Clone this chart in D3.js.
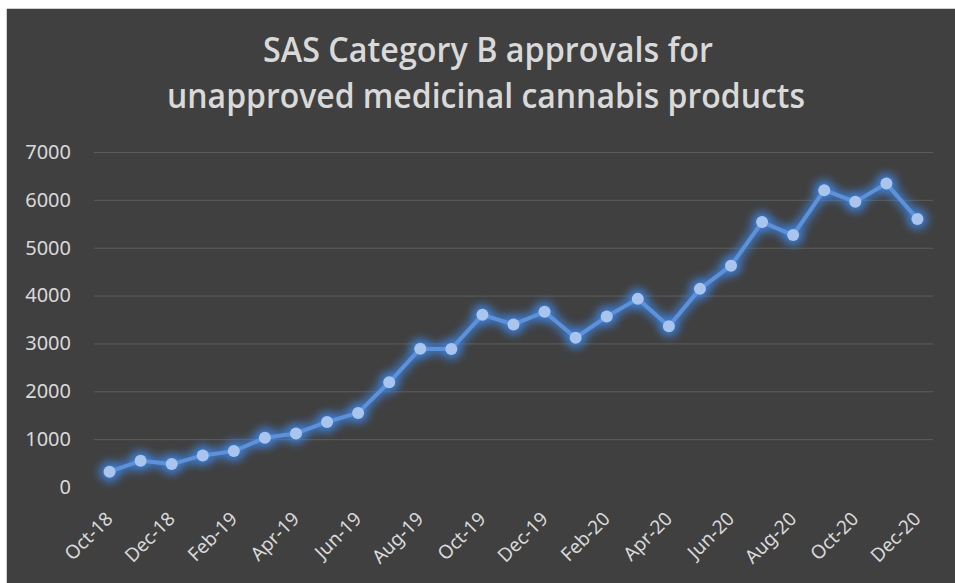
<!DOCTYPE html>
<html>
<head>
<meta charset="utf-8">
<script src="https://cdn.jsdelivr.net/npm/d3@7/dist/d3.min.js"></script>
<style>
  html, body { margin: 0; padding: 0; background: #ffffff; }
  svg { display: block; }
</style>
</head>
<body>
<svg id="chart" width="955" height="583"></svg>
<script>
const months = ["Oct-18","Nov-18","Dec-18","Jan-19","Feb-19","Mar-19","Apr-19","May-19","Jun-19","Jul-19","Aug-19","Sep-19","Oct-19","Nov-19","Dec-19","Jan-20","Feb-20","Mar-20","Apr-20","May-20","Jun-20","Jul-20","Aug-20","Sep-20","Oct-20","Nov-20","Dec-20"];
const approvals = [319, 548, 479, 660, 750, 1027, 1120, 1360, 1548, 2188, 2890, 2885, 3598, 3396, 3660, 3119, 3562, 3931, 3360, 4140, 4625, 5535, 5265, 6202, 5958, 6340, 5598];
const yTicks = [0, 1000, 2000, 3000, 4000, 5000, 6000, 7000];
const titleLines = ["SAS Category B approvals for", "unapproved medicinal cannabis products"];

const svg = d3.select("#chart");
const W = 955, H = 583;
const plot = { left: 94, right: 933, top: 152, bottom: 487 };

// background panel
svg.append("rect").attr("x", 7).attr("y", 9).attr("width", W - 7).attr("height", H - 9).attr("fill", "#404040");
svg.append("line").attr("x1", 6.5).attr("x2", 6.5).attr("y1", 9).attr("y2", H).attr("stroke", "#d0d0d0").attr("stroke-width", 1);
svg.append("line").attr("x1", 7).attr("x2", W).attr("y1", 8.5).attr("y2", 8.5).attr("stroke", "#d0d0d0").attr("stroke-width", 1);

const defs = svg.append("defs");
const glow = defs.append("filter").attr("id", "glow").attr("x", "-20%").attr("y", "-20%").attr("width", "140%").attr("height", "140%");
glow.append("feGaussianBlur").attr("stdDeviation", 4.5);

const x = d3.scalePoint().domain(months).range([plot.left, plot.right]).padding(0.5);
const y = d3.scaleLinear().domain([0, 7000]).range([plot.bottom, plot.top]);

// title
const title = svg.append("g").attr("fill", "#d9d9d9").attr("font-family", "'Open Sans', sans-serif").attr("font-weight", 600).attr("font-size", 35).attr("text-anchor", "middle");
title.append("text").attr("x", 488).attr("y", 62).attr("textLength", 450).attr("lengthAdjust", "spacingAndGlyphs").text(titleLines[0]);
title.append("text").attr("x", 486).attr("y", 108).attr("textLength", 638).attr("lengthAdjust", "spacingAndGlyphs").text(titleLines[1]);

// y axis with gridlines
const yAxis = d3.axisLeft(y).tickValues(yTicks).tickSize(-(plot.right - plot.left)).tickPadding(23).tickFormat(d3.format("d"));
const gy = svg.append("g").attr("transform", `translate(${plot.left},0)`).call(yAxis);
gy.select(".domain").remove();
gy.selectAll(".tick line").attr("stroke", "#5c5c5c").attr("stroke-width", 1).filter(d => d === 0).remove();
gy.selectAll(".tick text").attr("fill", "#d9d9d9").attr("font-family", "'Noto Sans', sans-serif").attr("font-size", 20);

// x axis labels (every other month)
const xAxis = d3.axisBottom(x).tickValues(months.filter((m, i) => i % 2 === 0)).tickSize(0).tickPadding(0);
const gx = svg.append("g").attr("transform", `translate(0,${plot.bottom})`).call(xAxis);
gx.select(".domain").remove();
gx.selectAll(".tick text")
  .attr("fill", "#d9d9d9")
  .attr("font-family", "'Noto Sans', sans-serif")
  .attr("font-size", 19)
  .attr("text-anchor", "end")
  .attr("dy", null)
  .attr("y", 0)
  .attr("transform", "translate(4,33) rotate(-45)");

// line with glow
const line = d3.line().x((d, i) => x(months[i])).y(d => y(d));
const glowG = svg.append("g").attr("filter", "url(#glow)");
glowG.append("path").datum(approvals).attr("d", line).attr("fill", "none").attr("stroke", "#3f86e6").attr("stroke-width", 11).attr("stroke-opacity", 0.7).attr("stroke-linejoin", "round");
glowG.selectAll("circle").data(approvals).join("circle").attr("cx", (d, i) => x(months[i])).attr("cy", d => y(d)).attr("r", 10.5).attr("fill", "#3f86e6").attr("fill-opacity", 0.8);

svg.append("path").datum(approvals).attr("d", line).attr("fill", "none").attr("stroke", "#5d92da").attr("stroke-width", 4).attr("stroke-linejoin", "round");
svg.append("g").selectAll("circle").data(approvals).join("circle")
  .attr("cx", (d, i) => x(months[i])).attr("cy", d => y(d)).attr("r", 6).attr("fill", "#a9c5ee");
</script>
</body>
</html>
